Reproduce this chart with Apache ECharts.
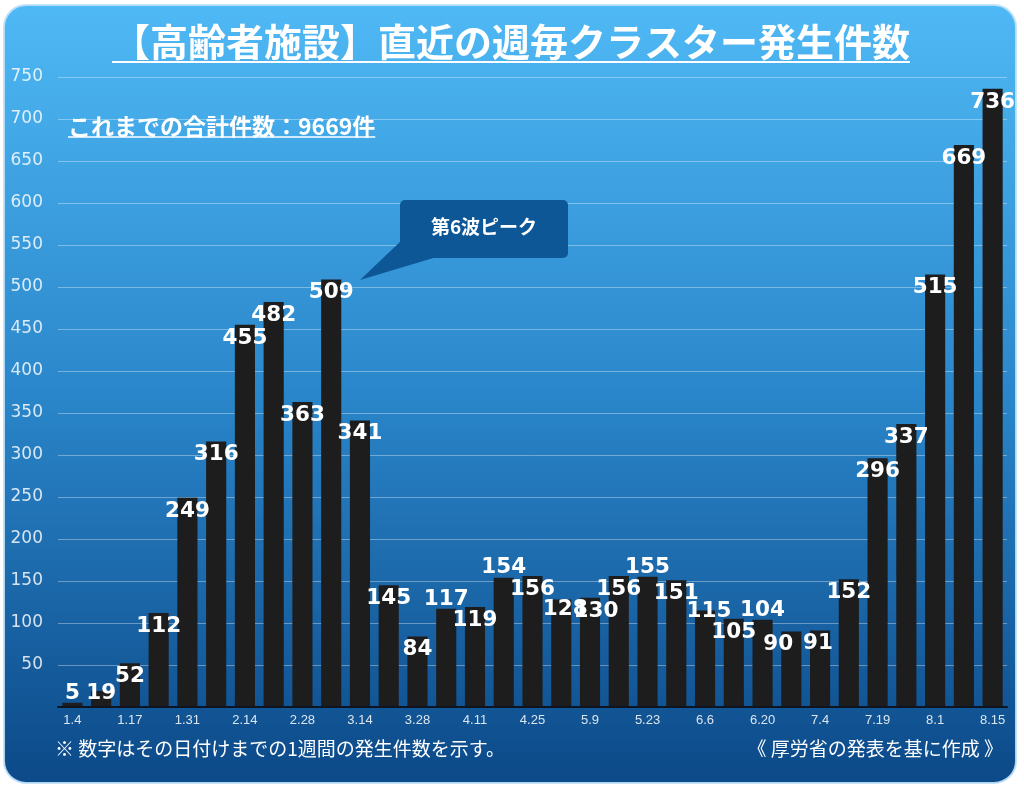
<!DOCTYPE html>
<html><head><meta charset="utf-8">
<script src="https://cdn.jsdelivr.net/npm/echarts@6/dist/echarts.min.js"></script>
<style>html,body{margin:0;padding:0;background:#fff}#c{width:1024px;height:788px}</style>
</head><body><div id="c"></div>
<script>
// ---- data ----
const categories = ['1.4','1.10','1.17','1.24','1.31','2.7','2.14','2.21','2.28','3.7','3.14','3.21','3.28','4.4','4.11','4.18','4.25','5.2','5.9','5.16','5.23','5.30','6.6','6.13','6.20','6.27','7.4','7.11','7.19','7.25','8.1','8.8','8.15'];
const values = [5,19,52,112,249,316,455,482,363,509,341,145,84,117,119,154,156,128,130,156,155,151,115,105,104,90,91,152,296,337,515,669,736];
const yMin = 0, yMax = 750, yStep = 50;
const titleText = '【高齢者施設】直近の週毎クラスター発生件数';
const totalText = 'これまでの合計件数：9669件';
const calloutText = '第6波ピーク';
const noteLeft = '※ 数字はその日付けまでの1週間の発生件数を示す。';
const noteRight = '《 厚労省の発表を基に作成 》';

// ---- layout / style ----
const W = 1024, H = 788;
const gridTop = 77, gridBottomY = 707, gridLeft = 58, gridRight = 1007;
const CJK = '"Noto Sans CJK JP", "Noto Sans", sans-serif';
const NUM = '"Liberation Sans", Arial, sans-serif';
const WIDE = '"DejaVu Sans", sans-serif';
const labelFont = 21.5;
// label vertical placement relative to bar top (px); a few sit above the bar as in the source
const labelRel = {13: -10, 15: -10, 20: -10, 24: -9, 22: 1, 17: 10};
const labelDx = {17: 4, 18: 6, 22: 4, 25: -13, 26: -2};

function measure(text, font) {
  const ctx = document.createElement('canvas').getContext('2d');
  ctx.font = font;
  return ctx.measureText(text).width;
}

const k = (gridBottomY - gridTop) / (yMax - yMin);
const barData = values.map((v, i) => {
  const top = gridBottomY - v * k;
  const rel = (i in labelRel) ? labelRel[i] : 13;
  const center = Math.min(top + rel, 693);
  const dy = center - top - labelFont / 2;
  return { value: v, label: { offset: [labelDx[i] || 0, dy] } };
});

const titleSize = 38, titleCx = 511, titleCy = 42;
const titleW = measure(titleText, `bold ${titleSize}px ${CJK}`);
const totalSize = 23, totalX = 68, totalCy = 126;
const totalW = measure(totalText, `bold ${totalSize}px ${CJK}`);

const chart = echarts.init(document.getElementById('c'), null, {renderer: 'canvas'});
chart.setOption({
  backgroundColor: '#ffffff',
  animation: false,
  grid: { left: gridLeft, right: W - gridRight, top: gridTop, bottom: H - gridBottomY, containLabel: false },
  xAxis: {
    type: 'category', data: categories,
    axisLine: { show: true, lineStyle: { color: '#0e1420', width: 2 } },
    axisTick: { show: false },
    axisLabel: { interval: 1, color: 'rgba(255,255,255,0.85)', fontSize: 13, fontFamily: NUM, margin: 7 },
    z: 5
  },
  yAxis: {
    type: 'value', min: yMin, max: yMax, interval: yStep,
    axisLine: { show: false }, axisTick: { show: false },
    axisLabel: { color: 'rgba(255,255,255,0.82)', fontSize: 17, fontFamily: WIDE, margin: 15,
      formatter: v => v === 0 ? '' : String(v) },
    splitLine: { lineStyle: { color: 'rgba(255,255,255,0.35)', width: 1 } }
  },
  series: [{
    type: 'bar', data: barData, barCategoryGap: '30%',
    itemStyle: { color: '#1d1d1e' },
    label: { show: true, position: 'insideTop', distance: 0, color: '#ffffff',
      fontSize: labelFont, fontWeight: 'bold', fontFamily: WIDE },
    z: 3
  }],
  graphic: [
    { type: 'rect', z: -100, silent: true,
      shape: { x: 4, y: 5, width: 1012, height: 778, r: 22 },
      style: { fill: new echarts.graphic.LinearGradient(0, 0, 0, 1, [
        { offset: 0, color: '#4fb9f5' }, { offset: 0.5, color: '#2a86ca' }, { offset: 1, color: '#0c4988' }]),
        stroke: 'rgba(190,225,250,0.9)', lineWidth: 2 } },
    { type: 'text', z: 50, silent: true, x: titleCx, y: titleCy,
      style: { text: titleText, fill: '#ffffff', font: `bold ${titleSize}px ${CJK}`, align: 'center', verticalAlign: 'middle' } },
    { type: 'line', z: 50, silent: true,
      shape: { x1: titleCx - titleW / 2, y1: 62, x2: titleCx + titleW / 2, y2: 62 },
      style: { stroke: '#ffffff', lineWidth: 2 } },
    { type: 'text', z: 50, silent: true, x: totalX, y: totalCy,
      style: { text: totalText, fill: '#ffffff', font: `bold ${totalSize}px ${CJK}`, align: 'left', verticalAlign: 'middle' } },
    { type: 'line', z: 50, silent: true,
      shape: { x1: totalX, y1: 137, x2: totalX + totalW, y2: 137 },
      style: { stroke: '#ffffff', lineWidth: 1.5 } },
    { type: 'polygon', z: 50, silent: true,
      shape: { points: [[360, 280], [402, 240], [440, 256]] },
      style: { fill: '#0d5797' } },
    { type: 'rect', z: 50, silent: true,
      shape: { x: 400, y: 200, width: 168, height: 58, r: 5 },
      style: { fill: '#0d5797' } },
    { type: 'text', z: 51, silent: true, x: 484, y: 227,
      style: { text: calloutText, fill: '#ffffff', font: `bold 19px ${CJK}`, align: 'center', verticalAlign: 'middle' } },
    { type: 'text', z: 50, silent: true, x: 55, y: 749,
      style: { text: noteLeft, fill: '#ffffff', font: `19px ${CJK}`, align: 'left', verticalAlign: 'middle' } },
    { type: 'text', z: 50, silent: true, x: 1003, y: 749,
      style: { text: noteRight, fill: '#ffffff', font: `19px ${CJK}`, align: 'right', verticalAlign: 'middle' } }
  ]
});
</script></body></html>
